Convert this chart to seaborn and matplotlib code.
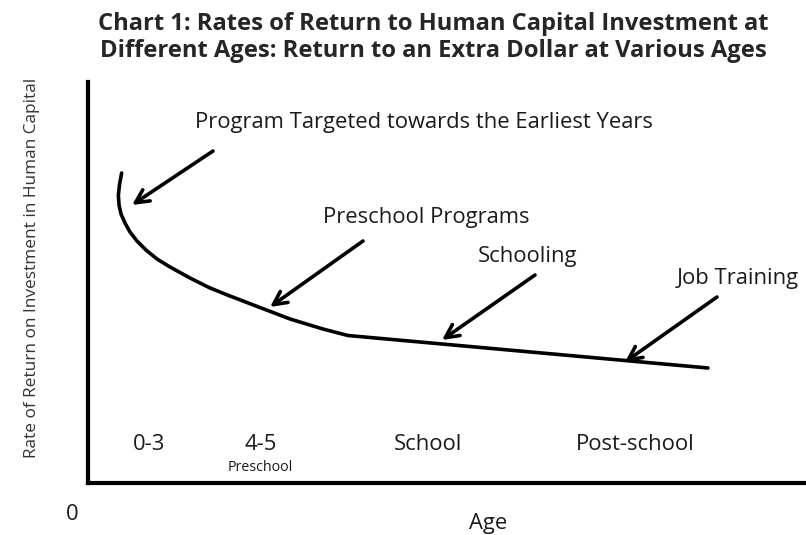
import numpy as np
import pandas as pd
import seaborn as sns
import matplotlib.pyplot as plt

# return curve (age axis 0-100, return axis 0-100)
curve_x = [4.69, 4.39, 4.23, 4.32, 4.60, 5.15, 5.85, 6.82, 8.08, 9.61, 11.42, 14.21,
           16.99, 19.78, 23.40, 28.13, 32.73, 36.21, 86.35]
curve_y = [77.31, 74.44, 71.82, 69.33, 67.08, 64.84, 62.59, 60.35, 58.10, 55.86, 53.87,
           51.12, 48.63, 46.63, 44.14, 40.90, 38.40, 36.78, 28.68]

# arrows: label, label position, arrow tail, arrow tip
arrow_labels = ["Program Targeted towards the Earliest Years", "Preschool Programs",
                "Schooling", "Job Training"]
label_x = [14.90, 32.73, 54.32, 82.03]
label_y = [90.02, 66.33, 56.36, 51.12]
tail_x = [17.41, 38.30, 62.26, 87.60]
tail_y = [82.79, 60.35, 51.87, 46.38]
tip_x = [6.13, 25.35, 49.30, 74.79]
tip_y = [69.33, 43.89, 35.66, 30.17]

# age groups along the bottom
age_groups = ["0-3", "4-5", "School", "Post-school"]
age_x = [8.50, 24.09, 47.35, 76.18]

sns.set_style("white")
plt.rcParams['font.family'] = ['Open Sans', 'DejaVu Sans']

fig = plt.figure(figsize=(8.06, 5.35), dpi=100)
ax = fig.add_axes([88 / 806, 52 / 535, 718 / 806, 401 / 535])

df = pd.DataFrame({"age": curve_x, "ret": curve_y})
sns.lineplot(data=df, x="age", y="ret", sort=False, estimator=None, color="black",
             lw=2.6, ax=ax)

labels = []
for lab, lx, ly, tx, ty, hx, hy in zip(arrow_labels, label_x, label_y, tail_x, tail_y, tip_x, tip_y):
    labels.append(ax.text(lx, ly, lab, fontsize=14, ha="left", va="center", color="#1a1a1a"))
    ax.annotate("", xy=(hx, hy), xytext=(tx, ty),
                arrowprops=dict(arrowstyle="->", lw=2.6, color="black",
                                mutation_scale=24, shrinkA=0, shrinkB=0))

for lab, x in zip(age_groups, age_x):
    labels.append(ax.text(x, 9.48, lab, fontsize=14, ha="center", va="center", color="#1a1a1a"))
small = ax.text(23.96, 3.99, "Preschool", fontsize=9, ha="center", va="center", color="#1a1a1a")

ax.set_xlim(0, 100)
ax.set_ylim(0, 100)
ax.set_xticks([])
ax.set_yticks([])
ax.set_xlabel("")
ax.set_ylabel("")
for s in ["top", "right"]:
    ax.spines[s].set_visible(False)
for s in ["left", "bottom"]:
    ax.spines[s].set_linewidth(3)
    ax.spines[s].set_color("black")

t1 = fig.text(433 / 806, 1 - 24 / 535, "Chart 1: Rates of Return to Human Capital Investment at",
              fontsize=15, fontweight="bold", ha="center", va="center")
t2 = fig.text(433 / 806, 1 - 51 / 535, "Different Ages: Return to an Extra Dollar at Various Ages",
              fontsize=15, fontweight="bold", ha="center", va="center")
ylab = fig.text(32 / 806, 1 - 268 / 535, "Rate of Return on Investment in Human Capital",
                fontsize=12, rotation=90, ha="center", va="center", color="#333333")
zero = fig.text(72 / 806, 1 - 514 / 535, "0", fontsize=14, ha="center", va="center", color="#1a1a1a")
age = fig.text(488 / 806, 1 - 524 / 535, "Age", fontsize=14, ha="center", va="center", color="#1a1a1a")

# scale the fonts so the text widths match the reference picture
renderer = fig.canvas.get_renderer()


def ratio(t, target, along="width"):
    ext = t.get_window_extent(renderer)
    return target / (ext.width if along == "width" else ext.height)


label_widths = [455, 204, 102, 125, 32, 32, 70, 120]
r = np.median([ratio(t, w) for t, w in zip(labels, label_widths)])
for t in labels + [zero, age]:
    t.set_fontsize(t.get_fontsize() * r)

rt = np.mean([ratio(t1, 668), ratio(t2, 672)])
for t in [t1, t2]:
    t.set_fontsize(t.get_fontsize() * rt)
small.set_fontsize(small.get_fontsize() * ratio(small, 66))
ylab.set_fontsize(ylab.get_fontsize() * ratio(ylab, 378, along="height"))

fig.savefig("out.png", dpi=100)
